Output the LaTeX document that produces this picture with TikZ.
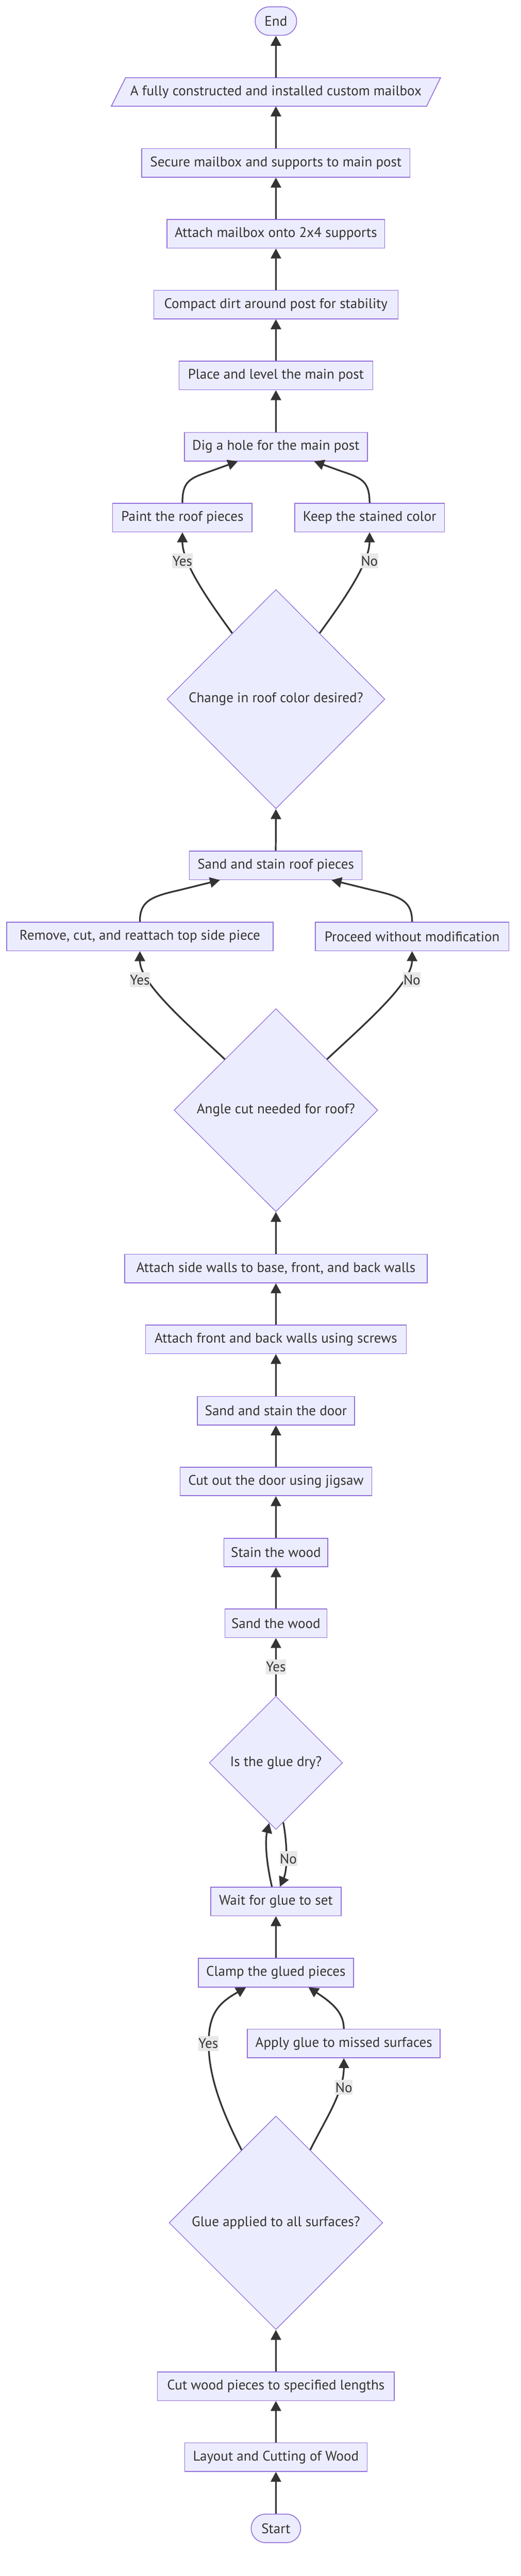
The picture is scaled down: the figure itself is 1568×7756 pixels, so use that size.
\documentclass[tikz,border=0pt]{standalone}
\usepackage{fontspec}
\setmainfont{PT Sans}
\usetikzlibrary{arrows.meta,shapes.geometric,calc}
\definecolor{nodefill}{HTML}{ECECFF}
\definecolor{nodeborder}{HTML}{9370DB}
\definecolor{textc}{HTML}{333333}
\definecolor{edgec}{HTML}{333333}
\definecolor{labelbg}{HTML}{E8E8E8}
\tikzset{
  txt/.style={font=\fontsize{42}{50}\selectfont, text=textc},
  proc/.style={txt, draw=nodeborder, fill=nodefill, line width=2.5pt, inner sep=0pt, minimum height=86pt},
  term/.style={proc, rounded corners=43pt},
  dec/.style={txt, draw=nodeborder, fill=nodefill, line width=2pt, shape=diamond, aspect=1, inner sep=0pt},
  edge/.style={draw=edgec, line width=5pt, -{Triangle[length=30pt,width=31pt]}},
  elabel/.style={txt, fill=labelbg, inner xsep=1pt, inner ysep=0pt, minimum height=45pt}
}
\begin{document}
\begin{tikzpicture}[x=1pt,y=-1pt]
\useasboundingbox (0,0) rectangle (1568,7756);
\fill[white] (0,0) rectangle (1568,7756);

% ---------- nodes ----------
\node[term, minimum width=125pt] (end) at (830.5,63.5) {End};
\fill[nodefill] (378,234) -- (1326,234) -- (1284,320) -- (335,320) -- cycle;
\draw[nodeborder, line width=2.5pt, line join=miter] (378,234) -- (1326,234) -- (1284,320) -- (335,320) -- cycle;
\node[txt, inner sep=0pt, minimum width=900pt, minimum height=86pt] (out) at (830.5,277) {A fully constructed and installed custom mailbox};
\node[proc, minimum width=807pt] (secure) at (830.5,490.5) {Secure mailbox and supports to main post};
\node[proc, minimum width=655pt] (attachmb) at (830.5,704) {Attach mailbox onto 2x4 supports};
\node[proc, minimum width=735pt] (compact) at (830.5,917) {Compact dirt around post for stability};
\node[proc, minimum width=583pt] (place) at (830.5,1130.5) {Place and level the main post};
\node[proc, minimum width=551pt] (dig) at (830.5,1345) {Dig a hole for the main post};
\node[proc, minimum width=420pt] (paint) at (549,1558.5) {Paint the roof pieces};
\node[proc, minimum width=451pt] (keep) at (1112.5,1558.5) {Keep the stained color};
\node[dec, minimum width=656pt, minimum height=660pt] (change) at (830.5,2105) {Change in roof color desired?};
\node[proc, minimum width=520pt] (sandroof) at (830,2605.5) {Sand and stain roof pieces};
\node[proc, minimum width=802pt] (remove) at (421,2819.5) {Remove, cut, and reattach top side piece};
\node[proc, minimum width=583pt] (proceed) at (1240.5,2819.5) {Proceed without modification};
\node[dec, minimum width=613pt, minimum height=611pt] (angle) at (830.5,3342.5) {Angle cut needed for roof?};
\node[proc, minimum width=911pt] (sidewalls) at (830.5,3819.5) {Attach side walls to base, front, and back walls};
\node[proc, minimum width=785pt] (frontback) at (830.5,4032.5) {Attach front and back walls using screws};
\node[proc, minimum width=473pt] (sanddoor) at (830.5,4247.5) {Sand and stain the door};
\node[proc, minimum width=577pt] (cutdoor) at (830.5,4460.5) {Cut out the door using jigsaw};
\node[proc, minimum width=313pt] (stain) at (830.5,4674.5) {Stain the wood};
\node[proc, minimum width=307pt] (sandwood) at (830.5,4887.5) {Sand the wood};
\node[dec, minimum width=401pt, minimum height=401pt] (dry) at (830.5,5307.5) {Is the glue dry?};
\node[proc, minimum width=393pt] (wait) at (830.5,5725) {Wait for glue to set};
\node[proc, minimum width=467pt] (clamp) at (830.5,5939.5) {Clamp the glued pieces};
\node[proc, minimum width=580pt] (apply) at (1035,6152.5) {Apply glue to missed surfaces};
\node[dec, minimum width=643pt, minimum height=643pt] (glue) at (830.5,6692.5) {Glue applied to all surfaces?};
\node[proc, minimum width=713pt] (cutwood) at (830.5,7184.5) {Cut wood pieces to specified lengths};
\node[proc, minimum width=549pt] (layout) at (830.5,7398) {Layout and Cutting of Wood};
\node[term, minimum width=149pt] (start) at (830.5,7612.5) {Start};

% ---------- edges ----------
\draw[edge] (start.north) -- (layout.south);
\draw[edge] (layout.north) -- (cutwood.south);
\draw[edge] (cutwood.north) -- (glue.south);
\draw[edge] ($(glue.north)!0.32!(glue.west)$) .. controls (675,6370) and (628,6260) .. (628,6153)
   .. controls (628,6060) and (660,6030) .. ([xshift=-90pt]clamp.south);
\draw[edge] ($(glue.north)!0.32!(glue.east)$) .. controls (980,6380) and (1035,6300) .. (apply.south);
\draw[edge] (apply.north) .. controls (1035,6060) and (1000,6030) .. ([xshift=98pt]clamp.south);
\draw[edge] (clamp.north) -- (wait.south);
\draw[edge] ([xshift=-12pt]wait.north) .. controls (800,5600) and (798,5540) .. ($(dry.south)!0.1!(dry.west)$);
\draw[edge] ($(dry.south)!0.11!(dry.east)$) .. controls (866,5560) and (865,5630) .. ([xshift=12pt]wait.north);
\draw[edge] (dry.north) -- (sandwood.south);
\draw[edge] (sandwood.north) -- (stain.south);
\draw[edge] (stain.north) -- (cutdoor.south);
\draw[edge] (cutdoor.north) -- (sanddoor.south);
\draw[edge] (sanddoor.north) -- (frontback.south);
\draw[edge] (frontback.north) -- (sidewalls.south);
\draw[edge] (sidewalls.north) -- (angle.south);
\draw[edge] ($(angle.north)!0.5!(angle.west)$) .. controls (560,3080) and (421,2960) .. (remove.south);
\draw[edge] ($(angle.north)!0.5!(angle.east)$) .. controls (1101,3080) and (1240,2960) .. (proceed.south);
\draw[edge] (remove.north) .. controls (421,2715) and (450,2700) .. (540,2680) -- ([xshift=-168pt]sandroof.south);
\draw[edge] (proceed.north) .. controls (1240,2715) and (1211,2700) .. (1121,2680) -- ([xshift=168pt]sandroof.south);
\draw[edge] (sandroof.north) -- (change.south);
\draw[edge] ($(change.north)!0.4!(change.west)$) .. controls (640,1825) and (549,1700) .. (paint.south);
\draw[edge] ($(change.north)!0.4!(change.east)$) .. controls (1021,1825) and (1112,1700) .. (keep.south);
\draw[edge] (paint.north) .. controls (549,1450) and (570,1440) .. (630,1420) -- ([xshift=-115pt]dig.south);
\draw[edge] (keep.north) .. controls (1112,1450) and (1091,1440) .. (1031,1420) -- ([xshift=115pt]dig.south);
\draw[edge] (dig.north) -- (place.south);
\draw[edge] (place.north) -- (compact.south);
\draw[edge] (compact.north) -- (attachmb.south);
\draw[edge] (attachmb.north) -- (secure.south);
\draw[edge] (secure.north) -- (out.south);
\draw[edge] (out.north) -- (end.south);

% ---------- edge labels ----------
\node[elabel] (l1) at (627,6153) {Yes};
\node[elabel] (l2) at (1035,6285) {No};
\node[elabel] (l3) at (868,5596) {No};
\node[elabel] (l4) at (830.5,5019) {Yes};
\node[elabel] (l5) at (421,2950) {Yes};
\node[elabel] (l6) at (1240,2950) {No};
\node[elabel] (l7) at (549,1689) {Yes};
\node[elabel] (l8) at (1112,1689) {No};
\end{tikzpicture}
\end{document}
